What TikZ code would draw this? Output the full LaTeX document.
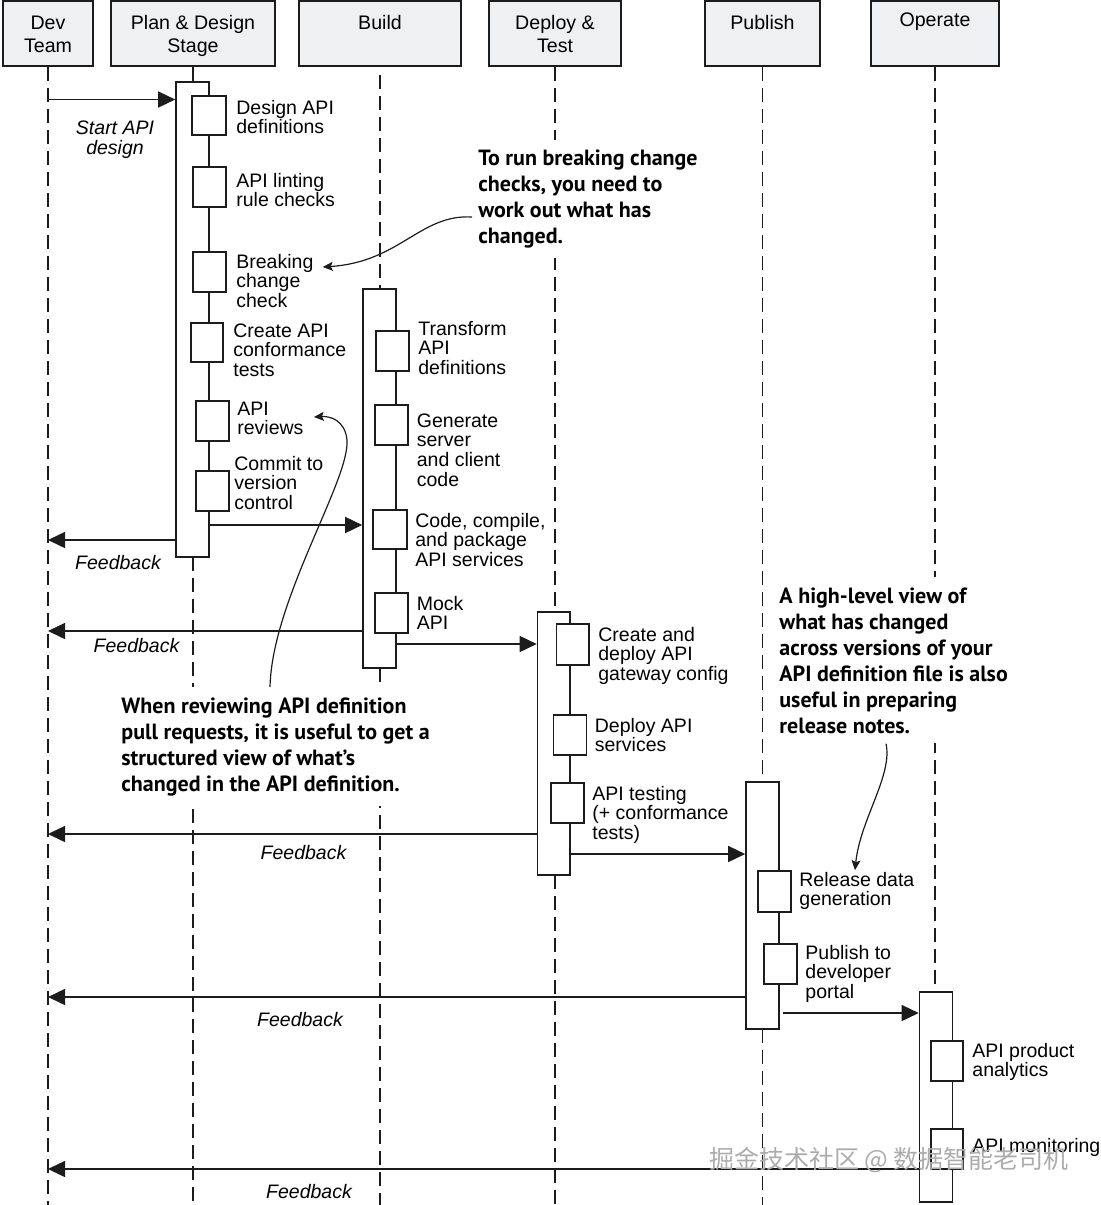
\documentclass[tikz,border=0pt]{standalone}
\usepackage{fontspec}
\setmainfont{Liberation Sans}
\newfontfamily\callfont{PT Sans}
\newfontfamily\cjkfont{Noto Sans CJK SC}
\usetikzlibrary{arrows.meta,fit}
\definecolor{headfill}{RGB}{238,240,241}
\definecolor{ink}{RGB}{28,28,28}
\begin{document}
\begin{tikzpicture}[x=0.5pt,y=-0.5pt,
  head/.style={draw=ink, line width=1pt, fill=headfill, inner sep=0pt},
  htxt/.style={font=\fontsize{9.8}{11.8}\selectfont, align=center, inner sep=0pt, anchor=base},
  bar/.style={draw=ink, line width=0.8pt, fill=white, inner sep=0pt},
  stepbox/.style={draw=ink, line width=0.8pt, fill=white, inner sep=0pt},
  lbl/.style={font=\fontsize{9.75}{9.85}\selectfont, align=left, inner sep=0pt, anchor=base west},
  fbl/.style={font=\fontsize{9.75}{10}\selectfont\itshape, inner sep=0pt, anchor=base},
  life/.style={draw=ink, line width=0.7pt, dash pattern=on 7pt off 3.5pt},
  msg/.style={draw=ink, line width=0.75pt, -{Triangle[length=8.5pt,width=8pt]}},
  call/.style={font=\callfont\bfseries\fontsize{11}{13}\selectfont, align=left, fill=white, inner xsep=3pt, inner ysep=5pt, anchor=base west},
  callarr/.style={draw=ink, line width=0.6pt, -{Stealth[length=5pt,width=4.5pt,inset=1pt]}}
]
\useasboundingbox (0,0) rectangle (1100,1205);
\coordinate (bottom) at (0,1205);

% headers
\node[head, fit={(3,1) (93,66)}] (dev) {};
\node[head, fit={(111,1) (275,66)}] (plan) {};
\node[head, fit={(299,1) (461,66)}] (build) {};
\node[head, fit={(489,1) (621,66)}] (deploy) {};
\node[head, fit={(705,1) (820,66)}] (publish) {};
\node[head, fit={(871,1) (999,66)}] (operate) {};
\node[htxt] (devt) at (48,52.6) {Dev\\Team};
\node[htxt] (plant) at (193,52.6) {Plan \& Design\\Stage};
\node[htxt] (buildt) at (380,29) {Build};
\node[htxt] (deployt) at (555,52.6) {Deploy \&\\Test};
\node[htxt] (publisht) at (762.5,29) {Publish};
\node[htxt] (operatet) at (935,26) {Operate};

% lifelines
\draw[life] (dev.south) -- (dev.south |- bottom);
\draw[draw=ink, line width=0.75pt] (plan.south) -- (plan.south |- 0,82);
\draw[life] (plan.south |- 0,557) -- (plan.south |- bottom);
\draw[life] (build.south |- 0,75) -- (build.south |- 0,289);
\draw[life] (build.south |- 0,668) -- (build.south |- bottom);
\draw[life] (deploy.south) -- (deploy.south |- 0,612);
\draw[life] (deploy.south |- 0,875) -- (deploy.south |- bottom);
\draw[life] (publish.south) -- (publish.south |- 0,782);
\draw[life] (publish.south |- 0,1029) -- (publish.south |- bottom);
\draw[life] (operate.south) -- (operate.south |- 0,992);

% activation bars
\node[bar, fit={(176,82) (209,557)}] (planbar) {};
\node[bar, fit={(363,289) (396,668)}] (buildbar) {};
\node[bar, fit={(537.5,612) (570,875)}] (deploybar) {};
\node[bar, fit={(746,782) (779,1029)}] (pubbar) {};
\node[bar, fit={(919.5,992) (952.5,1202)}] (opbar) {};

% plan steps
\node[stepbox, fit={(192,96) (226,135)}] (p1) {};
\node[stepbox, fit={(193,167) (226,207)}] (p2) {};
\node[stepbox, fit={(193,252) (226,292)}] (p3) {};
\node[stepbox, fit={(191,323) (223,362)}] (p4) {};
\node[stepbox, fit={(196,401) (229,441)}] (p5) {};
\node[stepbox, fit={(196,471) (229,511)}] (p6) {};
\node[lbl] (p1t) at (236,133.7) {Design API\\definitions};
\node[lbl] (p2t) at (236,206.7) {API linting\\rule checks};
\node[lbl] (p3t) at (236,307.4) {Breaking\\change\\check};
\node[lbl] (p4t) at (233,376.4) {Create API\\conformance\\tests};
\node[lbl] (p5t) at (237,434.7) {API\\reviews};
\node[lbl] (p6t) at (234,509.4) {Commit to\\version\\control};

% build steps
\node[stepbox, fit={(376,331) (409,371)}] (b1) {};
\node[stepbox, fit={(375,405) (408,445)}] (b2) {};
\node[stepbox, fit={(373,510) (407,549)}] (b3) {};
\node[stepbox, fit={(375,593) (408,633)}] (b4) {};
\node[lbl] (b1t) at (418,374.4) {Transform\\API\\definitions};
\node[lbl] (b2t) at (416.5,486.1) {Generate\\server\\and client\\code};
\node[lbl] (b3t) at (415,566.4) {Code, compile,\\and package\\API services};
\node[lbl] (b4t) at (416.5,629.7) {Mock\\API};

% deploy steps
\node[stepbox, fit={(556.5,624) (589,665)}] (d1) {};
\node[stepbox, fit={(553.5,715) (586.5,755)}] (d2) {};
\node[stepbox, fit={(551,783) (584,823)}] (d3) {};
\node[lbl] (d1t) at (598,680.4) {Create and\\deploy API\\gateway config};
\node[lbl] (d2t) at (594.5,751.7) {Deploy API\\services};
\node[lbl] (d3t) at (592,839.4) {API testing\\(+ conformance\\tests)};

% publish steps
\node[stepbox, fit={(758,871) (791,912)}] (u1) {};
\node[stepbox, fit={(764,944) (797,984)}] (u2) {};
\node[lbl] (u1t) at (799,905.7) {Release data\\generation};
\node[lbl] (u2t) at (805,998.4) {Publish to\\developer\\portal};

% operate steps
\node[stepbox, fit={(931,1041) (963,1081)}] (o1) {};
\node[stepbox, fit={(931,1129) (963,1169)}] (o2) {};
\node[lbl] (o1t) at (972,1076.7) {API product\\analytics};
\node[lbl] (o2t) at (972,1152) {API monitoring};

% forward messages
\draw[msg] (dev.south |- 0,99.5) -- (planbar.west |- 0,99.5);
\node[fbl, align=center] (startt) at (115,154) {Start API\\design};
\draw[msg] (planbar.east |- 0,525) -- (buildbar.west |- 0,525);
\draw[msg] (buildbar.east |- 0,644) -- (deploybar.west |- 0,644);
\draw[msg] (deploybar.east |- 0,854) -- (pubbar.west |- 0,854);
\draw[msg] ([xshift=1.5pt]pubbar.east |- 0,1013) -- (opbar.west |- 0,1013);

% feedback
\draw[msg] (planbar.west |- 0,540) -- (dev.south |- 0,540);
\draw[msg] (buildbar.west |- 0,631) -- (dev.south |- 0,631);
\draw[msg] (deploybar.west |- 0,834) -- (dev.south |- 0,834);
\draw[msg] (pubbar.west |- 0,997) -- (dev.south |- 0,997);
\draw[msg] (opbar.west |- 0,1169) -- (dev.south |- 0,1169);
\node[fbl] (fb1) at (118,569) {Feedback};
\node[fbl] (fb2) at (136.5,652) {Feedback};
\node[fbl] (fb3) at (303.5,859) {Feedback};
\node[fbl] (fb4) at (300,1026) {Feedback};
\node[fbl] (fb5) at (309,1198) {Feedback};

% callouts
\node[call] (c1) at (472,243.7) {To run breaking change\\checks, you need to\\work out what has\\changed.};
\node[call] (c2) at (115,791) {When reviewing API definition\\pull requests, it is useful to get a\\structured view of what’s\\changed in the API definition.};
\node[call] (c3) at (773,733) {A high-level view of\\what has changed\\across versions of your\\API definition file is also\\useful in preparing\\release notes.};
\draw[callarr] (c1.west |- 0,217) .. controls (420,214) and (400,262) .. ([xshift=4.5pt]p3t.east |- 0,267);
\draw[callarr] (c2.north -| 270,0) .. controls (272,600) and (350,480) .. (347,440) .. controls (345,420) and (330,416) .. ([xshift=5pt]p5t.east |- 0,417);
\draw[callarr] (c3.south -| 886,0) .. controls (893,775) and (860,820) .. (u1.north -| 855,0);

% watermark
\node[font=\cjkfont\fontsize{12.5}{13}\selectfont, text=gray!65, inner sep=0pt] (wm) at (889,1160) {掘金技术社区 @ 数据智能老司机};
\end{tikzpicture}
\end{document}
